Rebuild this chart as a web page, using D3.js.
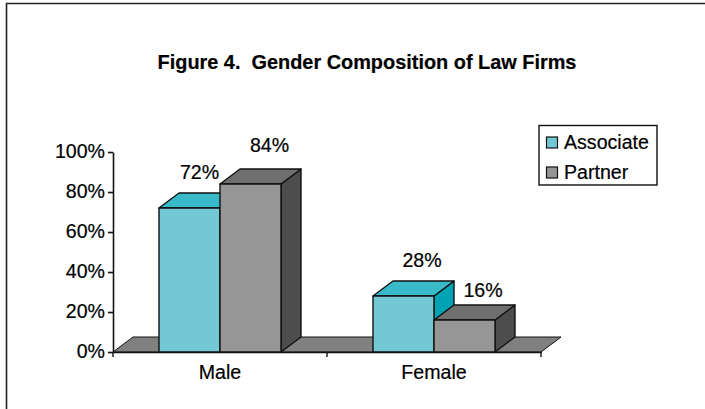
<!DOCTYPE html>
<html><head><meta charset="utf-8">
<script src="https://cdn.jsdelivr.net/npm/d3@7"></script>
<style>html,body{margin:0;padding:0;background:#fff}svg{display:block}text{font-family:"Liberation Sans",Arial,sans-serif;fill:#000;stroke:#000;stroke-width:.2px}</style>
</head><body><script>
const categories = ["Male", "Female"];
const seriesNames = ["Associate", "Partner"];
const associate = [0.72, 0.28];
const partner = [0.84, 0.16];
const seriesValues = [associate, partner];
const yTicks = [0, 0.2, 0.4, 0.6, 0.8, 1];
const title = "Figure 4.  Gender Composition of Law Firms";
const front = ["#72c9d3", "#969696"], top_ = ["#38bac9", "#6f6f6f"], side = ["#00a3b3", "#4d4d4d"];
const floorCol = "#808080", ink = "#111";
const W = 705, H = 409, dx = 20, dy = -15, fs = 19.6;
// label nudges from the front-top-centre of each bar, [series][category]
const nudgeX = [[10, 18.5], [19, 18.5]];
const nudgeY = [[-29, -29.5], [-32, -23]];

const svg = d3.select("body").append("svg").attr("width", W).attr("height", H);
svg.append("path").attr("d", `M6.5,${H}V3.5H${W}`).attr("fill", "none").attr("stroke", "#222").attr("stroke-width", 1.6);
svg.append("text").attr("x", 367).attr("y", 69).attr("text-anchor", "middle").attr("font-size", 19.9).attr("font-weight", "bold").style("white-space", "pre").text(title);

const x = d3.scaleBand().domain(categories).range([113, 541]);
const inner = d3.scaleBand().domain(d3.range(seriesNames.length)).range([x.bandwidth() / 2 - 61, x.bandwidth() / 2 + 61]);
const y = d3.scaleLinear().domain([0, 1]).range([352, 152]);
const poly = pts => "M" + pts.map(p => p.join(",")).join("L") + "Z";
const y0 = y(0);

svg.append("path").attr("d", poly([[113, y0], [113 + dx, y0 + dy], [541 + dx, y0 + dy], [541, y0]])).attr("fill", floorCol).attr("stroke", ink).attr("stroke-width", 1);

const yAxis = d3.axisLeft(y).tickValues(yTicks).tickFormat(d3.format(".0%")).tickSize(5).tickPadding(3).tickSizeOuter(0);
const gy = svg.append("g").attr("transform", "translate(113,0)").call(yAxis);
gy.selectAll("text").attr("font-size", fs).attr("dy", "0.28em");
gy.selectAll("path,line").attr("stroke", ink).attr("stroke-width", 1.6);
const xAxis = d3.axisBottom(x).tickSize(0).tickPadding(12);
const gx = svg.append("g").attr("transform", `translate(0,${y0})`).call(xAxis);
gx.select("path").attr("stroke", ink).attr("stroke-width", 1.6);
gx.selectAll("text").attr("font-size", fs).attr("dy", "0.78em");
svg.selectAll(".sep").data(x.domain().concat("end")).join("line")
  .attr("x1", d => d === "end" ? 541 : x(d)).attr("x2", d => d === "end" ? 541 : x(d))
  .attr("y1", y0).attr("y2", y0 + 5).attr("stroke", ink).attr("stroke-width", 1.4);

categories.forEach((c, ci) => {
  seriesNames.forEach((s, si) => {
    const v = seriesValues[si][ci];
    const bx0 = x(c) + inner(si), bx1 = bx0 + inner.bandwidth(), by = y(v);
    const g = svg.append("g");
    const add = (pts, fill) => g.append("path").attr("d", poly(pts)).attr("fill", fill).attr("stroke", ink).attr("stroke-width", 1.4).attr("stroke-linejoin", "round");
    add([[bx1, y0], [bx1 + dx, y0 + dy], [bx1 + dx, by + dy], [bx1, by]], side[si]);
    add([[bx0, by], [bx0 + dx, by + dy], [bx1 + dx, by + dy], [bx1, by]], top_[si]);
    add([[bx0, y0], [bx0, by], [bx1, by], [bx1, y0]], front[si]);
    svg.append("text").attr("class", "dl")
      .attr("x", (bx0 + bx1) / 2 + nudgeX[si][ci])
      .attr("y", by + nudgeY[si][ci]).attr("text-anchor", "middle").attr("font-size", fs)
      .text(d3.format(".0%")(v));
  });
});
svg.selectAll("text.dl").raise();

const lg = svg.append("g");
lg.append("rect").attr("x", 539).attr("y", 125.5).attr("width", 118).attr("height", 59.5).attr("fill", "#fff").attr("stroke", ink).attr("stroke-width", 1.4);
const ly = d3.scalePoint().domain(seriesNames).range([142.5, 172.5]);
seriesNames.forEach((s, i) => {
  lg.append("rect").attr("x", 546.5).attr("y", ly(s) - 5.5).attr("width", 11).attr("height", 11).attr("fill", front[i]).attr("stroke", ink).attr("stroke-width", 1.2);
  lg.append("text").attr("x", 564).attr("y", ly(s) + 6).attr("font-size", fs).text(s);
});
</script></body></html>
